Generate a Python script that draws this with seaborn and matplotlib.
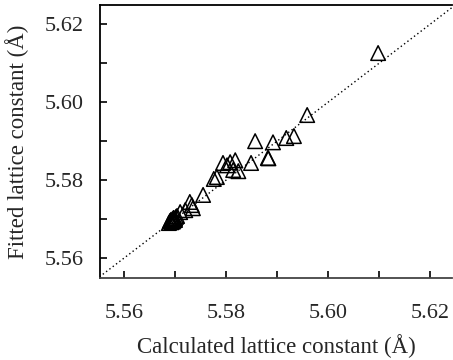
import matplotlib
matplotlib.use("Agg")
import matplotlib.pyplot as plt
import seaborn as sns
import pandas as pd
from matplotlib.ticker import MultipleLocator

calculated = [5.6098, 5.5959, 5.5857, 5.5892, 5.5918, 5.5933, 5.5882, 5.5883,
              5.5794, 5.5808, 5.5818, 5.5849, 5.5814, 5.5824, 5.5802,
              5.5776, 5.5782, 5.5755, 5.5729, 5.5733, 5.5720, 5.5710, 5.5735,
              5.5690, 5.5692, 5.5695, 5.5697, 5.5700, 5.5698, 5.5702, 5.5693,
              5.5688, 5.5696, 5.5700, 5.5704]
fitted = [5.6126, 5.5967, 5.5900, 5.5897, 5.5908, 5.5913, 5.5857, 5.5856,
          5.5844, 5.5846, 5.5851, 5.5844, 5.5826, 5.5823, 5.5838,
          5.5803, 5.5808, 5.5762, 5.5744, 5.5736, 5.5723, 5.5718, 5.5728,
          5.5695, 5.5698, 5.5700, 5.5703, 5.5702, 5.5697, 5.5706, 5.5692,
          5.5690, 5.5694, 5.5698, 5.5708]
diag = [5.55, 5.63]
xticks = [5.56, 5.58, 5.60, 5.62]
yticks = [5.56, 5.58, 5.60, 5.62]

sns.set_style("white")
plt.rcParams['font.family'] = ['Liberation Serif', 'DejaVu Serif']

df = pd.DataFrame({"calc": calculated, "fit": fitted})

fig = plt.figure(figsize=(4.53, 3.60), dpi=100)
ax = fig.add_axes([0.2208, 0.2278, 0.7772, 0.758])

ax.plot(diag, diag, linestyle=(0, (1, 2)), color="black", linewidth=1.0, zorder=1)
sns.scatterplot(data=df, x="calc", y="fit", ax=ax, marker="^", s=110,
                facecolor="none", edgecolor="black", linewidth=1.1, zorder=2)

ax.set_xlim(5.5553, 5.6243)
ax.set_ylim(5.5549, 5.6249)
ax.set_xticks(xticks)
ax.set_yticks(yticks)
ax.set_xticklabels([f"{t:.2f}" for t in xticks])
ax.set_yticklabels([f"{t:.2f}" for t in yticks])
ax.xaxis.set_minor_locator(MultipleLocator(0.01))
ax.yaxis.set_minor_locator(MultipleLocator(0.01))
ax.tick_params(which="both", direction="in", length=5, width=1.2, color="black",
               labelsize=16, bottom=True, left=True, top=False, right=False)
ax.tick_params(axis="x", which="major", pad=19)
ax.tick_params(axis="y", which="major", pad=12)

for side in ["top", "left", "bottom"]:
    ax.spines[side].set_visible(True)
    ax.spines[side].set_color("black")
    ax.spines[side].set_linewidth(1.3)
ax.spines["bottom"].set_color("#444444")
ax.spines["right"].set_visible(False)

ax.set_xlabel("Calculated lattice constant (Å)", fontsize=16.5, labelpad=8)
ax.set_ylabel("Fitted lattice constant (Å)", fontsize=16.5, labelpad=11)

fig.savefig("out.png", dpi=100)
